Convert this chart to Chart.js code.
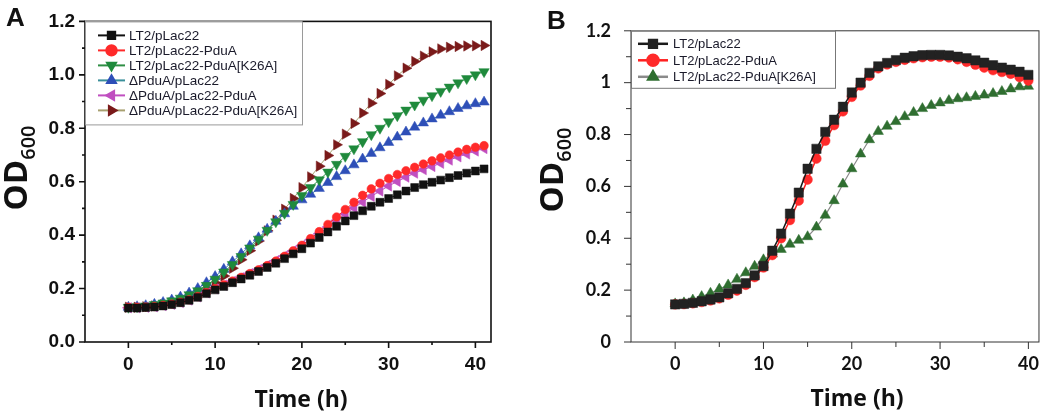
<!DOCTYPE html>
<html>
<head>
<meta charset="utf-8">
<script src="https://cdn.jsdelivr.net/npm/chart.js@4.4.1/dist/chart.umd.min.js"></script>
<style>
  body { margin: 0; background: #fff; }
  #wrap { position: relative; width: 1050px; height: 414px; background: #fff; overflow: hidden; }
  canvas { position: absolute; top: 0; }
  .txt { position: absolute; font-weight: bold; color: #111; white-space: nowrap; line-height: 1; }
  .panel { font-family: "Liberation Sans", Arial, sans-serif; font-size: 26px; }
  .ytitle { font-family: "Open Sans", sans-serif; font-size: 33px; transform: translate(-50%, -50%) rotate(-90deg); }
  .ytitle sub { font-size: 20px; vertical-align: -8px; font-weight: 600; }
  .xtitle { font-family: "Open Sans", sans-serif; font-size: 23px; transform: translate(-50%, -50%); }
</style>
</head>
<body>
<div id="wrap">
  <canvas id="chartA" width="500" height="414" style="left:0px"></canvas>
  <canvas id="chartB" width="530" height="414" style="left:520px"></canvas>
  <div class="txt panel" style="left:6px;top:4px">A</div>
  <div class="txt panel" style="left:547px;top:7px">B</div>
  <div class="txt ytitle" style="left:18px;top:168px">OD<sub>600</sub></div>
  <div class="txt ytitle" style="left:554px;top:170px">OD<sub>600</sub></div>
  <div class="txt xtitle" style="left:301px;top:398px">Time (h)</div>
  <div class="txt xtitle" style="left:857px;top:397px">Time (h)</div>
</div>
<script>
// ---- panel A data ----
var hoursA = [0,1,2,3,4,5,6,7,8,9,10,11,12,13,14,15,16,17,18,19,20,21,22,23,24,25,26,27,28,29,30,31,32,33,34,35,36,37,38,39,40,41];
var lt2A = [0.127,0.127,0.129,0.131,0.135,0.14,0.147,0.156,0.167,0.181,0.195,0.208,0.222,0.236,0.25,0.264,0.279,0.295,0.312,0.33,0.349,0.37,0.391,0.412,0.433,0.453,0.473,0.491,0.508,0.523,0.537,0.551,0.565,0.578,0.589,0.598,0.606,0.615,0.623,0.632,0.64,0.648];
var lt2PduA_A = [0.13,0.13,0.131,0.133,0.137,0.142,0.149,0.158,0.17,0.185,0.2,0.214,0.228,0.242,0.256,0.27,0.286,0.303,0.321,0.341,0.362,0.387,0.413,0.44,0.468,0.496,0.523,0.549,0.573,0.594,0.612,0.627,0.641,0.654,0.666,0.678,0.689,0.7,0.711,0.721,0.729,0.735];
var lt2K26A_A = [0.13,0.132,0.135,0.14,0.146,0.154,0.164,0.177,0.192,0.212,0.235,0.262,0.29,0.32,0.352,0.385,0.418,0.45,0.482,0.515,0.548,0.578,0.607,0.636,0.665,0.695,0.723,0.75,0.776,0.8,0.824,0.847,0.868,0.887,0.905,0.922,0.938,0.954,0.97,0.986,1.0,1.012];
var dPduA_A = [0.13,0.132,0.136,0.141,0.148,0.157,0.168,0.183,0.2,0.222,0.245,0.272,0.3,0.33,0.36,0.39,0.422,0.452,0.48,0.508,0.532,0.553,0.575,0.597,0.619,0.641,0.663,0.685,0.706,0.727,0.747,0.767,0.786,0.804,0.82,0.835,0.849,0.862,0.874,0.884,0.892,0.898];
var dPduAPduA_A = [0.128,0.128,0.13,0.132,0.136,0.141,0.148,0.157,0.169,0.184,0.199,0.213,0.227,0.241,0.256,0.271,0.287,0.304,0.322,0.341,0.361,0.383,0.406,0.43,0.455,0.479,0.502,0.524,0.545,0.565,0.584,0.601,0.617,0.632,0.645,0.657,0.669,0.681,0.693,0.704,0.715,0.724];
var dPduAK26A_A = [0.13,0.13,0.132,0.135,0.14,0.146,0.155,0.167,0.182,0.2,0.222,0.247,0.276,0.308,0.342,0.378,0.416,0.456,0.497,0.537,0.578,0.618,0.658,0.698,0.738,0.778,0.818,0.857,0.894,0.93,0.964,0.996,1.025,1.05,1.07,1.086,1.097,1.103,1.106,1.108,1.109,1.11];
var labelsA = ["LT2/pLac22", "LT2/pLac22-PduA", "LT2/pLac22-PduA[K26A]", "\u0394PduA/pLac22", "\u0394PduA/pLac22-PduA", "\u0394PduA/pLac22-PduA[K26A]"];

// ---- panel B data ----
var hoursB = [0,1,2,3,4,5,6,7,8,9,10,11,12,13,14,15,16,17,18,19,20,21,22,23,24,25,26,27,28,29,30,31,32,33,34,35,36,37,38,39,40];
var lt2B = [0.145,0.147,0.151,0.157,0.164,0.172,0.188,0.205,0.227,0.257,0.293,0.352,0.418,0.495,0.576,0.668,0.745,0.81,0.857,0.907,0.962,1.0,1.038,1.063,1.076,1.087,1.096,1.102,1.106,1.107,1.107,1.105,1.1,1.094,1.086,1.077,1.067,1.058,1.05,1.042,1.03];
var lt2PduA_B = [0.145,0.146,0.149,0.154,0.16,0.168,0.182,0.198,0.22,0.25,0.287,0.335,0.4,0.47,0.545,0.626,0.707,0.776,0.836,0.889,0.945,0.989,1.026,1.055,1.07,1.08,1.088,1.094,1.098,1.1,1.1,1.097,1.09,1.08,1.069,1.058,1.048,1.041,1.034,1.021,1.008];
var lt2K26A_B = [0.147,0.151,0.162,0.175,0.188,0.204,0.22,0.242,0.267,0.292,0.317,0.339,0.357,0.377,0.392,0.406,0.443,0.489,0.545,0.609,0.668,0.725,0.78,0.812,0.832,0.85,0.869,0.885,0.9,0.912,0.922,0.931,0.938,0.942,0.947,0.952,0.958,0.966,0.976,0.984,0.986];
var labelsB = ["LT2/pLac22", "LT2/pLac22-PduA", "LT2/pLac22-PduA[K26A]"];

// ---- axis ticks ----
var xTicks = [0, 10, 20, 30, 40];
var xMinor = [5, 15, 25, 35];
var yTicks = [0, 0.2, 0.4, 0.6, 0.8, 1.0, 1.2];
var yMinor = [0.1, 0.3, 0.5, 0.7, 0.9, 1.1];
var yTickLabelsA = ["0.0", "0.2", "0.4", "0.6", "0.8", "1.0", "1.2"];
var yTickLabelsB = ["0", "0.2", "0.4", "0.6", "0.8", "1", "1.2"];

function pts(xs, ys) {
    return xs.map(function(x, i) { return { x: x, y: ys[i] }; });
}

function series(label, xs, ys, lineColor, pointColor, style, rot, r, lw) {
    return {
        label: label,
        data: pts(xs, ys),
        borderColor: lineColor,
        borderWidth: lw,
        pointBackgroundColor: pointColor,
        pointBorderColor: pointColor,
        pointBorderWidth: 0.5,
        pointStyle: style,
        rotation: rot,
        pointRadius: r,
        tension: 0,
        fill: false
    };
}

// frame + outward major/minor ticks
var plotFrame = {
    id: 'plotFrame',
    beforeDatasetsDraw: function(chart, args, o) {
        var ctx = chart.ctx, a = chart.chartArea, x = chart.scales.x, y = chart.scales.y;
        ctx.save();
        ctx.strokeStyle = o.color;
        ctx.lineWidth = o.width;
        ctx.strokeRect(a.left, a.top, a.right - a.left, a.bottom - a.top);
        ctx.beginPath();
        xTicks.forEach(function(v) { var p = x.getPixelForValue(v); ctx.moveTo(p, a.bottom); ctx.lineTo(p, a.bottom + o.major); });
        xMinor.forEach(function(v) { var p = x.getPixelForValue(v); ctx.moveTo(p, a.bottom); ctx.lineTo(p, a.bottom + o.minor); });
        yTicks.forEach(function(v) { var p = y.getPixelForValue(v); ctx.moveTo(a.left, p); ctx.lineTo(a.left - o.major, p); });
        yMinor.forEach(function(v) { var p = y.getPixelForValue(v); ctx.moveTo(a.left, p); ctx.lineTo(a.left - o.minor, p); });
        ctx.stroke();
        ctx.restore();
    }
};

// legend in a box at top-left of the plot
var boxLegend = {
    id: 'boxLegend',
    afterDatasetsDraw: function(chart, args, o) {
        var ctx = chart.ctx, a = chart.chartArea;
        ctx.save();
        ctx.fillStyle = '#fff';
        ctx.fillRect(a.left, a.top, o.w, o.h);
        ctx.strokeStyle = o.border;
        ctx.lineWidth = 1;
        ctx.strokeRect(a.left + 0.5, a.top + 0.5, o.w, o.h);
        ctx.font = o.font;
        ctx.textBaseline = 'middle';
        chart.data.datasets.forEach(function(ds, i) {
            var yy = a.top + o.first + i * o.row;
            ctx.strokeStyle = ds.borderColor;
            ctx.lineWidth = o.lineW;
            ctx.beginPath();
            ctx.moveTo(a.left + o.x0, yy);
            ctx.lineTo(a.left + o.x1, yy);
            ctx.stroke();
            ctx.fillStyle = ds.pointBackgroundColor;
            ctx.strokeStyle = ds.pointBackgroundColor;
            Chart.helpers.drawPoint(ctx, { pointStyle: ds.pointStyle, rotation: ds.rotation, radius: o.markR || ds.pointRadius, borderWidth: 0.5 }, a.left + (o.x0 + o.x1) / 2, yy);
            ctx.fillStyle = o.textColor;
            ctx.fillText(ds.label, a.left + o.tx, yy + 1);
        });
        ctx.restore();
    }
};

function makeOptions(cfg) {
    return {
        responsive: false,
        animation: false,
        layout: { padding: { left: 0, right: cfg.padRight, top: cfg.padTop, bottom: 0 } },
        scales: {
            x: {
                type: 'linear',
                min: cfg.xMin,
                max: cfg.xMax,
                afterFit: function(s) { s.height = 72; },
                afterBuildTicks: function(s) { s.ticks = xTicks.map(function(v) { return { value: v }; }); },
                grid: { display: false, drawTicks: false, tickLength: 0 },
                border: { display: false },
                ticks: { padding: cfg.xPad, color: '#111', font: cfg.tickFont, maxRotation: 0, autoSkip: false },
                title: { display: false }
            },
            y: {
                type: 'linear',
                min: 0,
                max: 1.2,
                afterFit: function(s) { s.width = cfg.yWidth; },
                afterBuildTicks: function(s) { s.ticks = yTicks.map(function(v) { return { value: v }; }); },
                grid: { display: false, drawTicks: false, tickLength: 0 },
                border: { display: false },
                ticks: {
                    padding: cfg.yPad, color: '#111', font: cfg.tickFont, autoSkip: false,
                    callback: function(v, i) { return cfg.yLabels[i]; }
                },
                title: { display: false }
            }
        },
        plugins: {
            legend: { display: false },
            tooltip: { enabled: false },
            plotFrame: cfg.frame,
            boxLegend: cfg.legend
        }
    };
}

new Chart(document.getElementById('chartA').getContext('2d'), {
    type: 'line',
    data: {
        datasets: [
            series(labelsA[0], hoursA, lt2A, '#111111', '#111111', 'rect', 0, 5.6, 1),
            series(labelsA[1], hoursA, lt2PduA_A, '#ff2a2a', '#ff2a2a', 'circle', 0, 4.3, 1),
            series(labelsA[2], hoursA, lt2K26A_A, '#2f8f45', '#1f8a3c', 'triangle', 180, 6, 1),
            series(labelsA[3], hoursA, dPduA_A, '#3a8f9a', '#2e4fb8', 'triangle', 0, 6, 1),
            series(labelsA[4], hoursA, dPduAPduA_A, '#c04fc0', '#c04fc0', 'triangle', 270, 6, 1),
            series(labelsA[5], hoursA, dPduAK26A_A, '#a8a070', '#7a1a1a', 'triangle', 90, 6, 1)
        ]
    },
    options: makeOptions({
        padRight: 9, padTop: 18, xMin: -5, xMax: 41.8, yWidth: 85, xPad: 11, yPad: 10,
        tickFont: { family: '"Liberation Sans", Arial, sans-serif', size: 19, weight: 'bold' },
        yLabels: yTickLabelsA,
        frame: { color: '#111', width: 1.6, major: 6, minor: 3 },
        legend: { w: 217, h: 103, border: '#9a9a9a', first: 14, row: 15, x0: 13, x1: 40, tx: 44, lineW: 2, markR: 5.2,
                  font: '13.5px "Liberation Sans", Arial, sans-serif', textColor: '#1a1a2a' }
    }),
    plugins: [plotFrame, boxLegend]
});

new Chart(document.getElementById('chartB').getContext('2d'), {
    type: 'line',
    data: {
        datasets: [
            series(labelsB[0], hoursB, lt2B, '#1a1a1a', '#222222', 'rect', 0, 6.6, 1.5),
            series(labelsB[1], hoursB, lt2PduA_B, '#ff2020', '#ff2a2a', 'circle', 0, 4.8, 1.5),
            series(labelsB[2], hoursB, lt2K26A_B, '#8a8a8a', '#2f6e30', 'triangle', 0, 6, 1.2)
        ]
    },
    options: makeOptions({
        padRight: 3, padTop: 23, xMin: -5, xMax: 41.2, yWidth: 111, xPad: 11, yPad: 20,
        tickFont: { family: 'Lato, "Open Sans", sans-serif', size: 18, weight: 'bold' },
        yLabels: yTickLabelsB,
        frame: { color: '#333', width: 1, major: 7, minor: 5 },
        legend: { w: 204, h: 57, border: '#777', first: 13, row: 16.5, x0: 7, x1: 37, tx: 42, lineW: 2.5, markR: 5.5,
                  font: '13px "Liberation Sans", Arial, sans-serif', textColor: '#1a1a2a' }
    }),
    plugins: [plotFrame, boxLegend]
});
</script>
</body>
</html>
